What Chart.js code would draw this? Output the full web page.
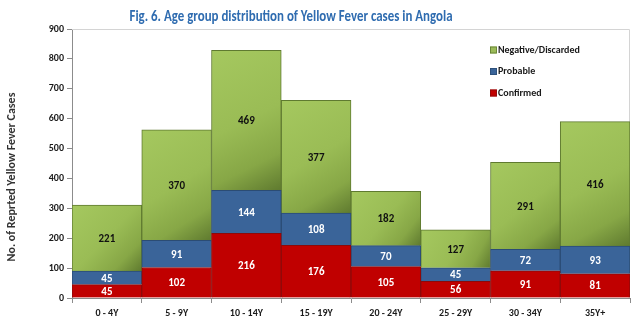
<!DOCTYPE html>
<html lang="en">
<head>
    <title>Yellow Fever cases by age group</title>
    <script src="https://cdn.jsdelivr.net/npm/chart.js"></script>
    <style>
        body {
            margin: 0;
            background-color: white;
        }

        #wrap {
            width: 640px;
            height: 330px;
        }
    </style>
</head>
<body>

    <div id="wrap">
        <canvas id="ageChart" width="640" height="330"></canvas>
    </div>

    <script>
        const categories = ['0 - 4Y', '5 - 9Y', '10 - 14Y', '15 - 19Y', '20 - 24Y', '25 - 29Y', '30 - 34Y', '35Y+'];
        const confirmed = [45, 102, 216, 176, 105, 56, 91, 81];
        const probable = [45, 91, 144, 108, 70, 45, 72, 93];
        const negative = [221, 370, 469, 377, 182, 127, 291, 416];
        const yMax = 900;
        const yStep = 100;

        const fontFamily = "Carlito, 'Liberation Sans Narrow', sans-serif";
        Chart.defaults.font.family = fontFamily;

        // green segments get a diagonal light-to-dark shade like an office chart
        function greenFill(ctx) {
            const chart = ctx.chart;
            const xs = chart.scales.x, ys = chart.scales.y;
            if (ctx.dataIndex === undefined || !xs || !ys) return '#9bbb59';
            const i = ctx.dataIndex;
            const half = xs.width / categories.length / 2;
            const cx = xs.getPixelForValue(i);
            const top = ys.getPixelForValue(confirmed[i] + probable[i] + negative[i]);
            const base = ys.getPixelForValue(confirmed[i] + probable[i]);
            if (![half, cx, top, base].every(Number.isFinite)) return '#9bbb59';
            const g = chart.ctx.createLinearGradient(cx - half, top, cx + half, base);
            g.addColorStop(0, '#a5c85f');
            g.addColorStop(0.5, '#9abc55');
            g.addColorStop(0.78, '#87a746');
            g.addColorStop(1, '#5f7a2f');
            return g;
        }

        // value inside every segment
        const segmentLabels = {
            id: 'segmentLabels',
            afterDatasetsDraw(chart) {
                const c = chart.ctx;
                c.save();
                c.font = "bold 11px " + fontFamily;
                c.textAlign = 'center';
                c.textBaseline = 'middle';
                chart.data.datasets.forEach((ds, di) => {
                    const meta = chart.getDatasetMeta(di);
                    meta.data.forEach((bar, i) => {
                        c.fillStyle = ds.labelColor;
                        c.fillText(String(ds.data[i]), bar.x, (bar.y + bar.base) / 2 + 1);
                    });
                });
                c.restore();
            }
        };

        // light frame on the top and right of the plot, titles, legend
        const decorations = {
            id: 'decorations',
            beforeDatasetsDraw(chart) {
                const a = chart.chartArea;
                const c = chart.ctx;
                c.save();
                c.strokeStyle = '#d4d4d4';
                c.lineWidth = 1;
                c.beginPath();
                c.moveTo(a.left, a.top + 0.5);
                c.lineTo(a.right - 0.5, a.top + 0.5);
                c.lineTo(a.right - 0.5, a.bottom);
                c.stroke();
                c.restore();
            },
            afterDraw(chart) {
                const c = chart.ctx;
                c.save();
                // title is a little narrower than the font's natural width
                c.translate(291, 17);
                c.scale(0.86, 1);
                c.fillStyle = '#2f6cb0';
                c.font = "bold 15px " + fontFamily;
                c.textAlign = 'center';
                c.textBaseline = 'middle';
                c.fillText('Fig. 6. Age group distribution of Yellow Fever cases in Angola', 0, 0);
                c.restore();

                // y axis title, sits a bit below the middle of the plot
                c.save();
                c.translate(12, 177);
                c.rotate(-Math.PI / 2);
                c.fillStyle = '#333333';
                c.font = "bold 12px " + fontFamily;
                c.textAlign = 'center';
                c.textBaseline = 'middle';
                c.fillText('No. of Reprted Yellow Fever Cases', 0, 0);
                c.restore();

                // legend, top entry is the top of the stack
                c.save();
                c.font = "bold 10px " + fontFamily;
                c.textAlign = 'left';
                c.textBaseline = 'middle';
                const items = chart.data.datasets.slice().reverse();
                items.forEach((ds, k) => {
                    const y = 50 + k * 21.5;
                    c.fillStyle = ds.legendColor;
                    c.fillRect(490, y - 3.5, 7, 7);
                    c.strokeStyle = ds.borderColor;
                    c.lineWidth = 0.8;
                    c.strokeRect(490.5, y - 3, 6, 6);
                    c.fillStyle = '#1a1a1a';
                    c.fillText(ds.label, 498, y);
                });
                c.restore();
            }
        };

        new Chart(document.getElementById('ageChart').getContext('2d'), {
            type: 'bar',
            data: {
                labels: categories,
                datasets: [
                    {
                        label: 'Confirmed',
                        data: confirmed,
                        backgroundColor: '#c00000',
                        legendColor: '#c00000',
                        borderColor: '#8c0a0a',
                        borderWidth: 1,
                        labelColor: '#ffffff'
                    },
                    {
                        label: 'Probable',
                        data: probable,
                        backgroundColor: '#3a6499',
                        legendColor: '#3a6499',
                        borderColor: '#2b4c74',
                        borderWidth: 1,
                        labelColor: '#ffffff'
                    },
                    {
                        label: 'Negative/Discarded',
                        data: negative,
                        backgroundColor: greenFill,
                        legendColor: '#9bbb59',
                        borderColor: '#5f7a30',
                        borderWidth: 1,
                        labelColor: '#111111'
                    }
                ]
            },
            options: {
                responsive: false,
                animation: false,
                layout: {
                    padding: { top: 29, right: 10, bottom: 0, left: 0 }
                },
                datasets: {
                    bar: { barPercentage: 1, categoryPercentage: 1 }
                },
                scales: {
                    x: {
                        stacked: true,
                        afterFit(scale) { scale.height = 32; },
                        grid: {
                            drawOnChartArea: false,
                            tickLength: 5,
                            color: '#8c8c8c'
                        },
                        border: { color: '#8c8c8c' },
                        ticks: {
                            color: '#1a1a1a',
                            padding: 4,
                            font: { size: 10, weight: 'bold' }
                        }
                    },
                    y: {
                        stacked: true,
                        min: 0,
                        max: yMax,
                        afterFit(scale) { scale.width = 72; },
                        grid: {
                            drawOnChartArea: false,
                            tickLength: 5,
                            color: '#8c8c8c'
                        },
                        border: { color: '#8c8c8c' },
                        ticks: {
                            stepSize: yStep,
                            color: '#1a1a1a',
                            padding: 3,
                            font: { size: 10, weight: 'bold' }
                        }
                    }
                },
                plugins: {
                    legend: { display: false },
                    tooltip: { enabled: false }
                }
            },
            plugins: [segmentLabels, decorations]
        });
    </script>

</body>
</html>
